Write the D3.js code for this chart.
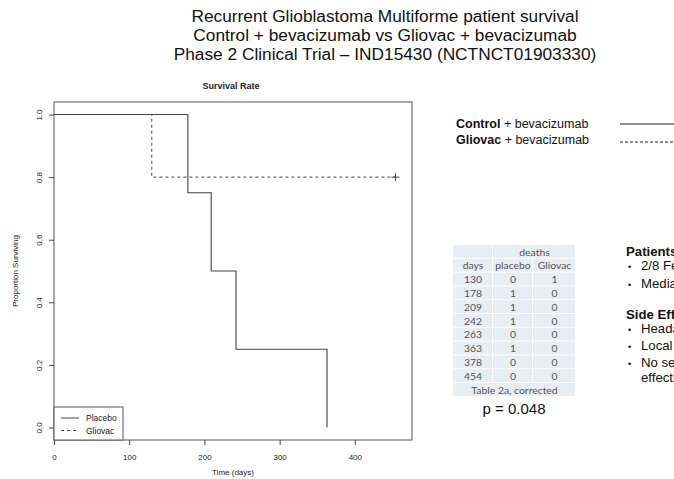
<!DOCTYPE html>
<html>
<head>
<meta charset="utf-8">
<script src="https://cdn.jsdelivr.net/npm/d3@7"></script>
<style>
  body { margin: 0; background: #fff; }
  svg { display: block; }
</style>
</head>
<body>
<div id="chart"></div>
<script>
// table 2a data
const days = [130, 178, 209, 242, 263, 363, 378, 454];
const placeboDeaths = [0, 1, 1, 1, 0, 1, 0, 0];
const gliovacDeaths = [1, 0, 0, 0, 0, 0, 0, 0];

// Kaplan-Meier steps (time, proportion surviving)
const placeboTimes = [0, 178, 209, 242, 363];
const placeboSurv = [1, 0.75, 0.5, 0.25, 0];
const gliovacTimes = [0, 130, 454];
const gliovacSurv = [1, 0.8, 0.8];
const gliovacCensor = [454];

const xTicks = [0, 100, 200, 300, 400];
const yTicks = [0, 0.2, 0.4, 0.6, 0.8, 1.0];

const titleLines = [
  "Recurrent Glioblastoma Multiforme patient survival",
  "Control + bevacizumab vs Gliovac + bevacizumab",
  "Phase 2 Clinical Trial \u2013 IND15430 (NCTNCT01903330)"
];

const W = 674, H = 479;
const svg = d3.select("#chart").append("svg")
  .attr("width", W).attr("height", H)
  .style("font-family", "'Liberation Sans', Arial, sans-serif");

// title
svg.selectAll(".title").data(titleLines).enter().append("text")
  .attr("x", 385).attr("y", (d, i) => 22 + i * 19)
  .attr("text-anchor", "middle")
  .attr("font-size", 17.3).attr("fill", "#111")
  .text(d => d);

// plot area
const box = { left: 54, right: 412, top: 102, bottom: 440 };
const x = d3.scaleLinear().domain([0, 476]).range([box.left, box.right]);
const y = d3.scaleLinear().domain([-0.04, 1.04]).range([box.bottom, box.top]);
const ink = "#444";

svg.append("text").attr("x", 231).attr("y", 89)
  .attr("text-anchor", "middle").attr("font-size", 9).attr("font-weight", "bold")
  .attr("fill", "#222").text("Survival Rate");

svg.append("rect")
  .attr("x", box.left).attr("y", box.top)
  .attr("width", box.right - box.left).attr("height", box.bottom - box.top)
  .attr("fill", "none").attr("stroke", "#555").attr("stroke-width", 1);

// x axis
const gx = svg.append("g").attr("transform", "translate(0," + box.bottom + ")")
  .call(d3.axisBottom(x).tickValues(xTicks).tickSize(5).tickPadding(9).tickSizeOuter(0));
gx.select(".domain").remove();
gx.selectAll("line").attr("stroke", ink);
gx.selectAll("text").attr("font-size", 8).attr("fill", "#222")
  .style("font-family", "'Liberation Sans', Arial, sans-serif");

// y axis
const gy = svg.append("g").attr("transform", "translate(" + box.left + ",0)")
  .call(d3.axisLeft(y).tickValues(yTicks).tickFormat(d3.format(".1f")).tickSize(5).tickSizeOuter(0));
gy.select(".domain").remove();
gy.selectAll("line").attr("stroke", ink);
gy.selectAll("text")
  .attr("font-size", 8).attr("fill", "#222")
  .style("font-family", "'Liberation Sans', Arial, sans-serif")
  .attr("x", null).attr("dy", null)
  .attr("text-anchor", "middle")
  .attr("transform", "translate(-15,0) rotate(-90)")
  .attr("y", 3);

svg.append("text").attr("x", 233).attr("y", 475)
  .attr("text-anchor", "middle").attr("font-size", 8).attr("fill", "#222")
  .text("Time (days)");
svg.append("text")
  .attr("transform", "translate(18," + ((box.top + box.bottom) / 2) + ") rotate(-90)")
  .attr("text-anchor", "middle").attr("font-size", 8).attr("fill", "#222")
  .text("Proportion Surviving");

// survival curves
const line = d3.line().x(d => x(d[0])).y(d => y(d[1])).curve(d3.curveStepAfter);
svg.append("path").datum(d3.zip(placeboTimes, placeboSurv))
  .attr("d", line).attr("fill", "none").attr("stroke", ink).attr("stroke-width", 1.1);
svg.append("path").datum(d3.zip(gliovacTimes, gliovacSurv))
  .attr("d", line).attr("fill", "none").attr("stroke", ink).attr("stroke-width", 1)
  .attr("stroke-dasharray", "3,3");
svg.selectAll(".censor").data(gliovacCensor).enter().append("path")
  .attr("d", d => {
    const cx = x(d), cy = y(gliovacSurv[gliovacSurv.length - 1]);
    return "M" + (cx - 4) + "," + cy + "H" + (cx + 4) + "M" + cx + "," + (cy - 4) + "V" + (cy + 4);
  })
  .attr("stroke", ink).attr("stroke-width", 1);

// inner legend
const legItems = [{ name: "Placebo", dash: null }, { name: "Gliovac", dash: "3,3" }];
svg.append("rect").attr("x", box.left).attr("y", 407)
  .attr("width", 69).attr("height", box.bottom - 407)
  .attr("fill", "#fff").attr("stroke", "#555");
const lg = svg.selectAll(".leg").data(legItems).enter().append("g")
  .attr("transform", (d, i) => "translate(0," + (418 + i * 12.5) + ")");
lg.append("line").attr("x1", 61).attr("x2", 79)
  .attr("stroke", ink).attr("stroke-dasharray", d => d.dash);
lg.append("text").attr("x", 86).attr("y", 3).attr("font-size", 8.5).attr("fill", "#222")
  .text(d => d.name);

// right legend
const arms = [
  { bold: "Control", rest: " + bevacizumab", dash: null },
  { bold: "Gliovac", rest: " + bevacizumab", dash: "3,2" }
];
const rl = svg.selectAll(".arm").data(arms).enter().append("g")
  .attr("transform", (d, i) => "translate(0," + (128 + i * 15.5) + ")");
const rt = rl.append("text").attr("x", 456).attr("font-size", 12.5).attr("fill", "#111");
rt.append("tspan").attr("font-weight", "bold").text(d => d.bold);
rt.append("tspan").text(d => d.rest);
rl.append("line").attr("x1", 620).attr("x2", 680)
  .attr("y1", (d, i) => -4 + i * 2.5).attr("y2", (d, i) => -4 + i * 2.5)
  .attr("stroke", "#222").attr("stroke-width", 1)
  .attr("stroke-dasharray", d => d.dash);

// table 2a
const cols = [453, 493, 533, 576];
const rowH = 13.8, tblTop = 245;
const tbl = svg.append("g").style("font-family", "Lato, 'Open Sans', sans-serif");
const cellFill = "#e8ecf3", cellText = "#555";
function cell(x0, x1, r, txt) {
  tbl.append("rect").attr("x", x0).attr("y", tblTop + r * rowH)
    .attr("width", x1 - x0 - 1).attr("height", rowH - 1).attr("fill", cellFill);
  tbl.append("text").attr("x", (x0 + x1) / 2).attr("y", tblTop + r * rowH + rowH / 2 + 3.7)
    .attr("text-anchor", "middle").attr("font-size", 10.4).attr("fill", cellText).text(txt);
}
cell(cols[0], cols[1], 0, "");
cell(cols[1], cols[3], 0, "deaths");
cell(cols[0], cols[1], 1, "days");
cell(cols[1], cols[2], 1, "placebo");
cell(cols[2], cols[3], 1, "Gliovac");
days.forEach((d, i) => {
  cell(cols[0], cols[1], i + 2, d);
  cell(cols[1], cols[2], i + 2, placeboDeaths[i]);
  cell(cols[2], cols[3], i + 2, gliovacDeaths[i]);
});
cell(cols[0], cols[3], days.length + 2, "Table 2a, corrected");

svg.append("text").attr("x", 514).attr("y", 414)
  .attr("text-anchor", "middle").attr("font-size", 15).attr("fill", "#111")
  .text("p = 0.048");

// notes on the right (run off the page edge, as in the original slide)
const notes = [
  { t: "Patients", y: 256, bold: true },
  { t: "2/8 Female", y: 270, bullet: true },
  { t: "Median age 55", y: 288, bullet: true },
  { t: "Side Effects", y: 319, bold: true },
  { t: "Headache", y: 333, bullet: true },
  { t: "Local reaction", y: 350, bullet: true },
  { t: "No serious adverse", y: 367, bullet: true },
  { t: "effects", y: 382 }
];
const ng = svg.selectAll(".note").data(notes).enter().append("g");
ng.append("text").attr("x", d => d.bold ? 626 : 641).attr("y", d => d.y)
  .attr("font-size", 13.2).attr("fill", "#111")
  .attr("font-weight", d => d.bold ? "bold" : null)
  .text(d => d.t);
ng.filter(d => d.bullet).append("text").attr("x", 628).attr("y", d => d.y)
  .attr("font-size", 9).attr("fill", "#111").text("\u2022");
</script>
</body>
</html>
